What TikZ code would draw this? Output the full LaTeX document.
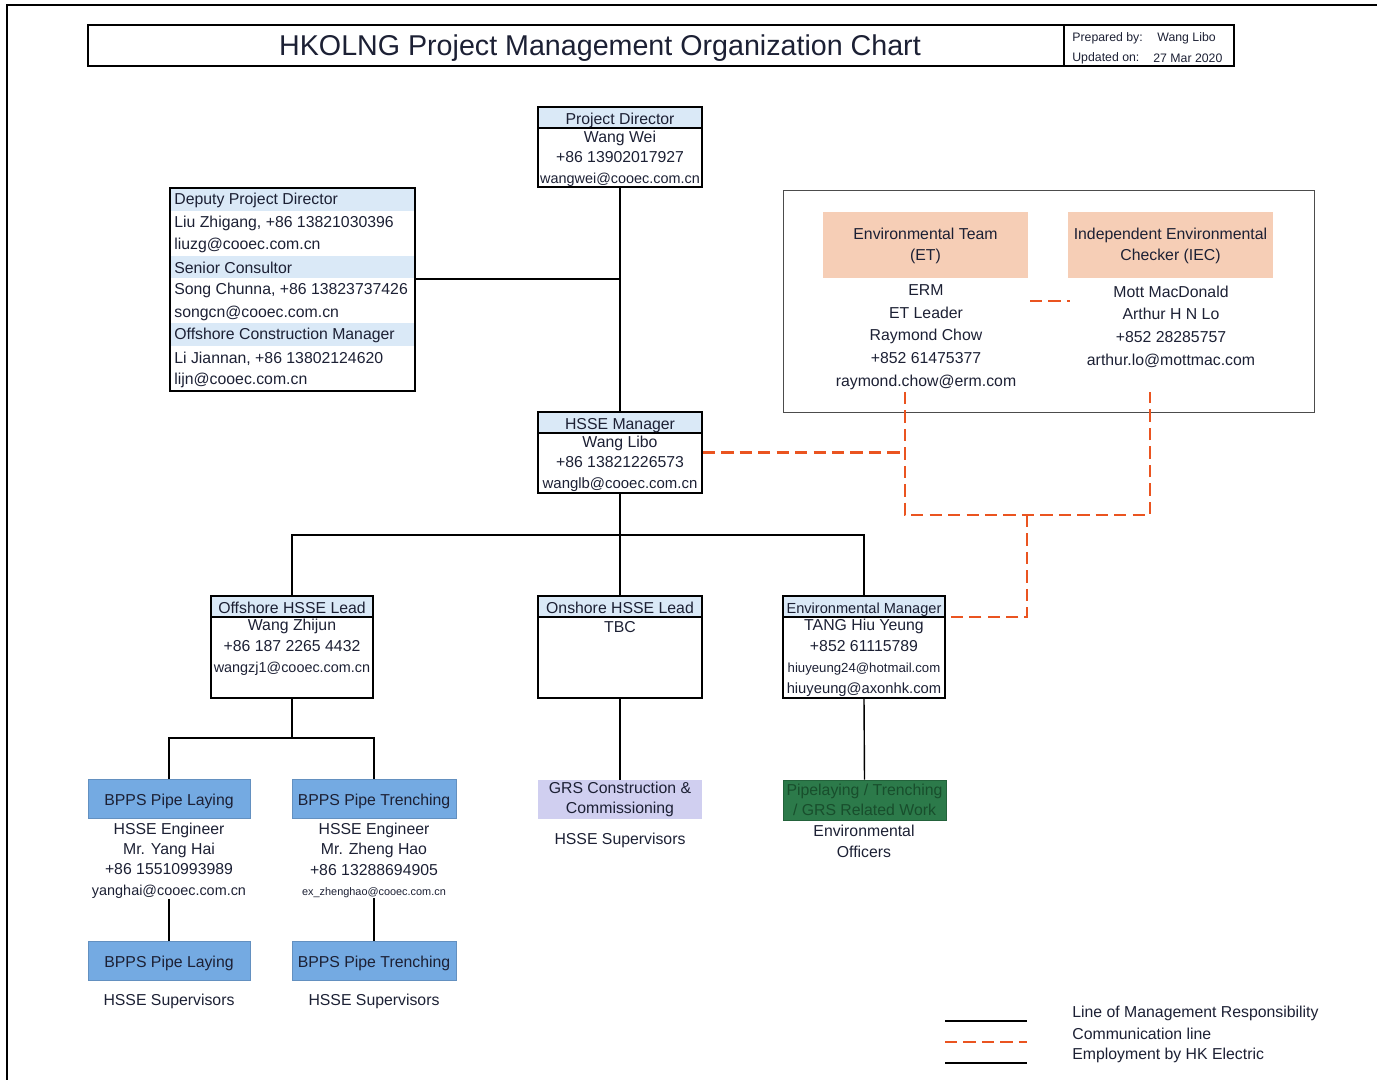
\documentclass[tikz,border=0pt]{standalone}
\usepackage{fontspec}
\setmainfont{Liberation Sans}
\usetikzlibrary{positioning,calc}

\definecolor{ink}{RGB}{28,32,52}
\definecolor{hdrblue}{RGB}{218,233,247}
\definecolor{bppsblue}{RGB}{116,170,226}
\definecolor{peach}{RGB}{246,206,182}
\definecolor{lilac}{RGB}{208,207,240}
\definecolor{envgreen}{RGB}{44,122,74}
\definecolor{envtext}{RGB}{24,78,44}
\definecolor{commred}{RGB}{234,84,32}

\newcommand{\fs}[2]{\fontsize{#1}{#2}\selectfont}

\tikzset{
  box/.style={draw, line width=0.9pt, inner sep=0pt},
  hdr/.style={draw, line width=0.9pt, fill=hdrblue, minimum height=4mm, inner sep=0pt, anchor=north, text height=1em, text depth=0.2em, font=\fs{9}{11}},
  txt/.style={align=center, inner sep=0pt, yshift=-0.2mm, font=\fs{9}{11.7}},
  bpps/.style={fill=bppsblue, draw=bppsblue!85!black, line width=0.3pt, minimum width=32.4mm, minimum height=7.8mm, inner sep=0pt, text height=1em, text depth=0.2em, font=\fs{9}{11}},
  mgmt/.style={line width=0.8pt},
  comm/.style={draw=commred, line width=1.5pt, dash pattern=on 7pt off 3.5pt},
}

\begin{document}
\begin{tikzpicture}[x=0.2mm, y=-0.2mm, every node/.append style={text=ink}]
    \useasboundingbox (0,0) rectangle (1377,1080);
    % page frame
    \draw[line width=0.8pt] (1377,5) -- (7,5) -- (7,1080);

    % title
    \node[box, minimum width=229.2mm, minimum height=8.2mm] (titlebox) at (661,45.5) {};
    \node[font=\fs{16.3}{18}, inner sep=0pt] (title) at (600,48.5) {HKOLNG Project Management Organization Chart};
    \node[box, minimum width=34mm, minimum height=8.2mm] (prep) at (1149,45.5) {};
    \node[anchor=west, font=\fs{7}{8}, inner sep=0pt] (prepa) at (1072,38.5) {Prepared by:};
    \node[anchor=west, font=\fs{7}{8}, inner sep=0pt] (prepb) at (1157,38.5) {Wang Libo};
    \node[anchor=west, font=\fs{7}{8}, inner sep=0pt] (upda) at (1072,58.5) {Updated on:};
    \node[anchor=west, font=\fs{7}{8}, inner sep=0pt] (updb) at (1153,58.5) {27 Mar 2020};

    % project director
    \node[box, minimum width=32.8mm, minimum height=16mm] (pd) at (620,147) {};
    \node[hdr, minimum width=32.8mm] (pdh) at (pd.north) {Project Director};
    \node[txt] (pdt) at (620,157.5) {Wang Wei\\+86 13902017927\\{\fs{8.2}{11.7}wangwei@cooec.com.cn}};

    % deputy / consultor / construction manager
    \foreach \r in {0,3,6}
    {
        \fill[hdrblue] (171,{188+\r*22.55}) rectangle (414,{188+(\r+1)*22.55});
    };
    \node[box, minimum width=49mm, minimum height=40.6mm] (dep) at (292.5,289.5) {};
    \foreach \t [count=\i from 0] in {Deputy Project Director, {Liu Zhigang, +86 13821030396}, liuzg@cooec.com.cn, Senior Consultor, {Song Chunna, +86 13823737426}, songcn@cooec.com.cn, Offshore Construction Manager, {Li Jiannan, +86 13802124620}, lijn@cooec.com.cn}
    {
        \node[anchor=west, font=\fs{9}{11}, inner sep=0pt] (dep\i) at (174,{200.5+\i*22.55}) {\t};
    };

    % HSSE manager
    \node[box, minimum width=32.8mm, minimum height=16.2mm] (hsse) at (620,452.5) {};
    \node[hdr, minimum width=32.8mm] (hsseh) at (hsse.north) {HSSE Manager};
    \node[txt] (hsset) at (620,462.5) {Wang Libo\\+86 13821226573\\{\fs{8.5}{11.7}wanglb@cooec.com.cn}};

    % ET and IEC group
    \node[draw=black!70, line width=0.5pt, minimum width=106.2mm, minimum height=44.4mm, inner sep=0pt] (envgrp) at (1048.5,301) {};
    \node[fill=peach, minimum width=41mm, minimum height=13.2mm, align=center, inner sep=0pt, font=\fs{9}{12}] (et) at (925.5,245.5) {Environmental Team\\(ET)};
    \node[fill=peach, minimum width=41mm, minimum height=13.2mm, align=center, inner sep=0pt, font=\fs{9}{12}] (iec) at (1170.5,245.5) {Independent Environmental\\Checker (IEC)};
    \node[txt, font=\fs{9}{12.9}] (ett) at (926,336) {ERM\\ET Leader\\Raymond Chow\\+852 61475377\\raymond.chow@erm.com};
    \node[txt, font=\fs{9}{12.9}] (iect) at (1171,325.5) {Mott MacDonald\\Arthur H N Lo\\+852 28285757\\arthur.lo@mottmac.com};

    % HSSE leads
    \node[box, minimum width=32.4mm, minimum height=20.4mm] (off) at (292,647) {};
    \node[hdr, minimum width=32.4mm] (offh) at (off.north) {Offshore HSSE Lead};
    \node[txt, font=\fs{9}{11.8}] (offt) at (292,646.5) {Wang Zhijun\\+86 187 2265 4432\\{\fs{8.2}{11.8}wangzj1@cooec.com.cn}};
    \node[box, minimum width=32.8mm, minimum height=20.4mm] (ons) at (620,647) {};
    \node[hdr, minimum width=32.8mm] (onsh) at (ons.north) {Onshore HSSE Lead};
    \node[txt] (onst) at (620,626) {TBC};
    \node[box, minimum width=32.4mm, minimum height=20.4mm] (envm) at (864,647) {};
    \node[hdr, minimum width=32.4mm, font=\fs{8.3}{11}] (envmh) at (envm.north) {Environmental Manager};
    \node[txt, font=\fs{9}{11.9}] (envmt) at (864,657) {TANG Hiu Yeung\\+852 61115789\\{\fs{7.5}{11.9}hiuyeung24@hotmail.com}\\{\fs{8.4}{11.9}hiuyeung@axonhk.com}};

    % offshore teams
    \node[bpps] (lay1) at (169,798.5) {BPPS Pipe Laying};
    \node[bpps, minimum width=32.8mm] (tr1) at (374,798.5) {BPPS Pipe Trenching};
    \node[txt, font=\fs{9}{11.6}] (lay1t) at (169,859.5) {HSSE Engineer\\Mr. Yang Hai\\+86 15510993989\\{\fs{8.2}{11.6}yanghai@cooec.com.cn}};
    \node[txt, font=\fs{9}{11.6}] (tr1t) at (374,859.5) {HSSE Engineer\\Mr. Zheng Hao\\+86 13288694905\\{\fs{6.2}{11.6}ex\_zhenghao@cooec.com.cn}};
    \node[bpps] (lay2) at (169,960.5) {BPPS Pipe Laying};
    \node[bpps, minimum width=32.8mm] (tr2) at (374,960.5) {BPPS Pipe Trenching};
    \node[txt] (lay2t) at (169,1000.5) {HSSE Supervisors};
    \node[txt] (tr2t) at (374,1000.5) {HSSE Supervisors};

    % onshore and environmental teams
    \node[fill=lilac, minimum width=32.8mm, minimum height=7.8mm, align=center, inner sep=0pt, font=\fs{9}{11.4}] (grs) at (620,799.5) {GRS Construction \&\\Commissioning};
    \node[txt] (grst) at (620,839.5) {HSSE Supervisors};
    \node[fill=envgreen, draw=envgreen!80!black, line width=0.4pt, minimum width=32.6mm, minimum height=8mm, align=center, inner sep=0pt, font=\fs{9}{11.4}, text=envtext] (grn) at (864.5,800) {Pipelaying / Trenching\\/ GRS Related Work};
    \node[txt] (grnt) at (864,840.5) {Environmental\\Officers};

    % management lines
    \coordinate (depj) at (415,279);
    \coordinate (hj) at (620,535);
    \coordinate (oj) at (292,738);
    \draw[mgmt] (pd.south) -- (hsse.north);
    \draw[mgmt] (depj) -- (depj -| pd.south);
    \draw[mgmt] (hsse.south) -- (ons.north);
    \draw[mgmt] (off.north) |- (hj) -| (envm.north);
    \draw[mgmt] (off.south) -- (oj);
    \draw[mgmt] (lay1.north) |- (oj) -| (tr1.north);
    \draw[mgmt] (lay1t.south) -- (lay2.north);
    \draw[mgmt] (tr1t.south) -- (tr2.north);
    \draw[mgmt] (ons.south) -- (grs.north);
    \draw[mgmt] (envm.south) -- (grn.north);

    % communication lines
    \coordinate (etd) at (905,392);
    \coordinate (iecd) at (1150,392);
    \coordinate (cj) at (1027,515);
    \coordinate (emj) at (945,617);
    \coordinate (eta) at (1030,301);
    \coordinate (ieca) at (1070,301);
    \draw[comm] (hsse.east) -- (hsse.east -| etd);
    \draw[comm] (etd) |- (cj) -| (iecd);
    \draw[comm] (cj) |- (emj);
    \draw[comm] (eta) -- (ieca);

    % legend
    \coordinate (lg1a) at (945,1021); \coordinate (lg1b) at (1027,1021);
    \coordinate (lg2a) at (945,1042); \coordinate (lg2b) at (1027,1042);
    \coordinate (lg3a) at (945,1063); \coordinate (lg3b) at (1027,1063);
    \draw[mgmt] (lg1a) -- (lg1b);
    \draw[comm] (lg2a) -- (lg2b);
    \draw[line width=0.6pt] (lg3a) -- (lg3b);
    \node[anchor=west, inner sep=0pt, font=\fs{9}{11}] (lgt1) at (1072,1013) {Line of Management Responsibility};
    \node[anchor=west, inner sep=0pt, font=\fs{9}{11}] (lgt2) at (1072,1034) {Communication line};
    \node[anchor=west, inner sep=0pt, font=\fs{9}{11}] (lgt3) at (1072,1055) {Employment by HK Electric};
\end{tikzpicture}
\end{document}
